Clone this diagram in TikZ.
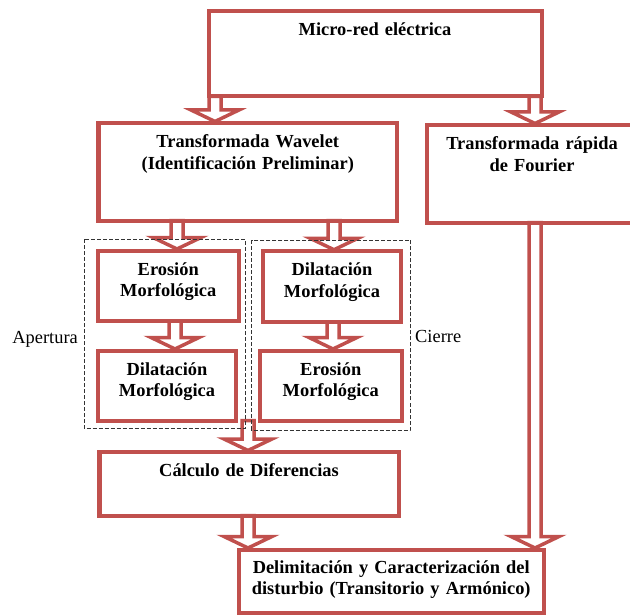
\documentclass[tikz,border=0pt]{standalone}
\usepackage{fontspec}
\setmainfont{Liberation Serif}
\usetikzlibrary{calc,positioning}
\definecolor{rojo}{RGB}{192,80,77}

% flecha hueca: #1 = x, #2 = bloque de salida, #3 = bloque de llegada
\newcommand{\flecha}[3]{%
\draw[flecha] let \p1 = (#2.south), \p2 = (#3.north) in
  (#1bp-6bp, \y1) -- (#1bp-6bp, \y2+13bp) -- (#1bp-24bp, \y2+13bp) -- (#1bp, \y2+1.5bp)
  -- (#1bp+24bp, \y2+13bp) -- (#1bp+6bp, \y2+13bp) -- (#1bp+6bp, \y1) -- cycle;}

\begin{document}
\begin{tikzpicture}[x=1bp, y=-1bp]
\tikzstyle{caja}=[draw=rojo, line width=4bp, outer sep=0pt, inner sep=0pt]
\tikzstyle{texto}=[font=\fontsize{18.4bp}{21.5bp}\selectfont\bfseries, align=center, text width=320bp, inner sep=0pt, anchor=base]
\tikzstyle{etiqueta}=[font=\fontsize{18.4bp}{21.5bp}\selectfont, inner sep=0pt]
\tikzstyle{grupo}=[draw=black!80, line width=0.8bp, dash pattern=on 4bp off 2bp]
\tikzstyle{flecha}=[draw=rojo, line width=3.5bp, line join=miter]

\useasboundingbox (0,0) rectangle (630,615);

% Bloques
\node at (375, 54) [caja, minimum width=333bp, minimum height=85bp] (micro) {};
\node at (247.75, 171.75) [caja, minimum width=298.5bp, minimum height=97.5bp] (wavelet) {};
\node at (532, 173.75) [caja, minimum width=210bp, minimum height=97.5bp] (fourier) {};
\node at (168.25, 285.75) [caja, minimum width=141.5bp, minimum height=70.5bp] (erosion_a) {};
\node at (332, 286.5) [caja, minimum width=138bp, minimum height=70.5bp] (dilatacion_c) {};
\node at (167, 385.5) [caja, minimum width=138bp, minimum height=70bp] (dilatacion_a) {};
\node at (330.75, 385.5) [caja, minimum width=142.5bp, minimum height=70bp] (erosion_c) {};
\node at (249, 483.75) [caja, minimum width=299bp, minimum height=63.5bp] (calculo) {};
\node at (391.25, 581.25) [caja, minimum width=305.5bp, minimum height=63.5bp] (delim) {};

% Textos
\node at ([yshift=-24.5bp]micro.north) [texto] (micro_t) {Micro-red eléctrica};
\node at ([yshift=-25bp]wavelet.north) [texto] (wavelet_t) {Transformada Wavelet\\(Identificación Preliminar)};
\node at ([yshift=-25bp]fourier.north) [texto] (fourier_t) {Transformada rápida\\de Fourier};
\node at ([yshift=-24.5bp]erosion_a.north) [texto] (erosion_a_t) {Erosión\\Morfológica};
\node at ([yshift=-24.5bp]dilatacion_c.north) [texto] (dilatacion_c_t) {Dilatación\\Morfológica};
\node at ([yshift=-24.5bp]dilatacion_a.north) [texto] (dilatacion_a_t) {Dilatación\\Morfológica};
\node at ([yshift=-24.5bp]erosion_c.north) [texto] (erosion_c_t) {Erosión\\Morfológica};
\node at ([yshift=-24.5bp]calculo.north) [texto] (calculo_t) {Cálculo de Diferencias};
\node at ([yshift=-23.5bp]delim.north) [texto] (delim_t) {Delimitación y Caracterización del\\disturbio (Transitorio y Armónico)};

% Flechas
\flecha{215}{micro}{wavelet}
\flecha{535}{micro}{fourier}
\flecha{177}{wavelet}{erosion_a}
\flecha{334}{wavelet}{dilatacion_c}
\flecha{175}{erosion_a}{dilatacion_a}
\flecha{333}{dilatacion_c}{erosion_c}
\flecha{248}{dilatacion_a}{calculo}
\flecha{248}{calculo}{delim}
\flecha{535}{fourier}{delim}

% Apertura y Cierre
\draw[grupo] (84, 239) rectangle (245, 428.5);
\draw[grupo] (251.5, 240) rectangle (410, 430);
\node at (78, 343) [etiqueta, anchor=base east] (apertura) {Apertura};
\node at (415, 342) [etiqueta, anchor=base west] (cierre) {Cierre};
\end{tikzpicture}
\end{document}
